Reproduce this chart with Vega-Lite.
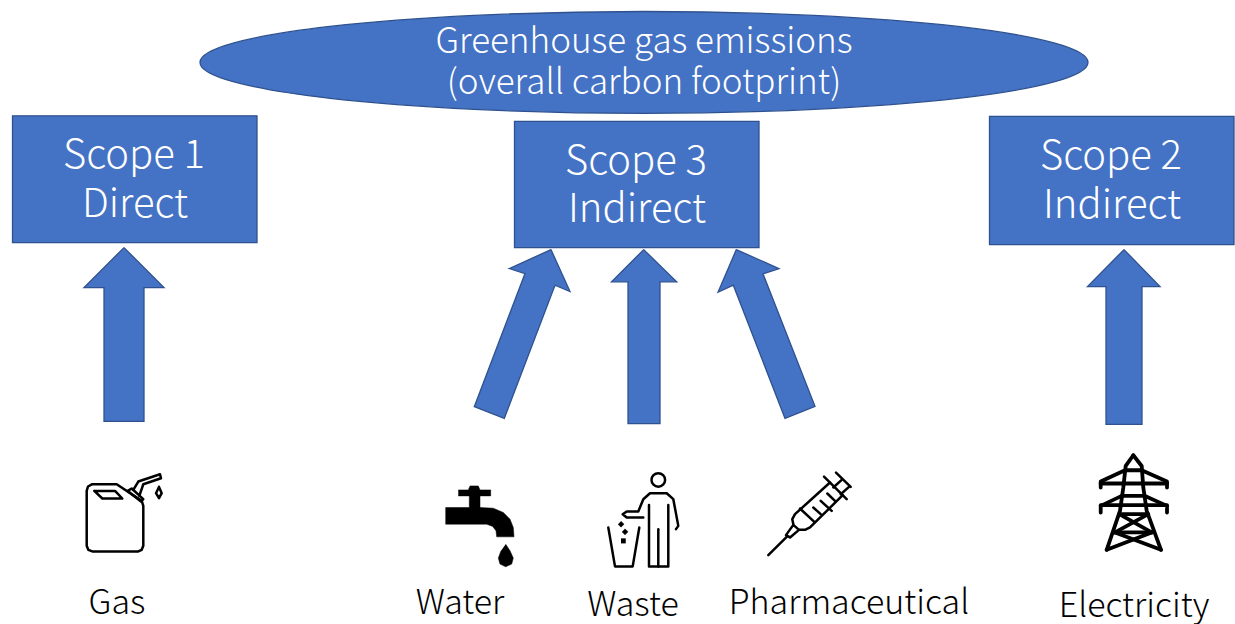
{
"$schema":"https://vega.github.io/schema/vega-lite/v6.json",
"width":1235,"height":624,
"autosize":{"type":"fit","contains":"padding"},
"padding":0,
"background":"white",
"view":{"stroke":null},
"config":{"axis":{"domain":false,"grid":false,"ticks":false,"labels":false,"title":null}},
"datasets":{
"ellipse":[
{"g":"e","i":1,"x":1088,"y":62.5},{"g":"e","i":2,"x":1054,"y":82},{"g":"e","i":3,"x":958,"y":98.5},{"g":"e","i":4,"x":814,"y":109.5},{"g":"e","i":5,"x":644,"y":113.5},{"g":"e","i":6,"x":474,"y":109.5},{"g":"e","i":7,"x":330,"y":98.5},{"g":"e","i":8,"x":234,"y":82},{"g":"e","i":9,"x":200,"y":62.5},{"g":"e","i":10,"x":234,"y":43},{"g":"e","i":11,"x":330,"y":26.5},{"g":"e","i":12,"x":474,"y":15.5},{"g":"e","i":13,"x":644,"y":11.5},{"g":"e","i":14,"x":814,"y":15.5},{"g":"e","i":15,"x":958,"y":26.5},{"g":"e","i":16,"x":1054,"y":43}],
"boxes":[
{"name":"Scope 1","x":12.5,"x2":257,"y":116,"y2":243},
{"name":"Scope 3","x":514.5,"x2":759,"y":121.5,"y2":248},
{"name":"Scope 2","x":989.5,"x2":1234,"y":116.5,"y2":245}],
"arrows":[
{"g":"gas","i":1,"x":124,"y":248},{"g":"gas","i":2,"x":164,"y":288},{"g":"gas","i":3,"x":144,"y":288},{"g":"gas","i":4,"x":144,"y":422},{"g":"gas","i":5,"x":104,"y":422},{"g":"gas","i":6,"x":104,"y":288},{"g":"gas","i":7,"x":84,"y":288},{"g":"gas","i":8,"x":124,"y":248},
{"g":"water","i":1,"x":551,"y":250},{"g":"water","i":2,"x":570,"y":292},{"g":"water","i":3,"x":555,"y":285.7},{"g":"water","i":4,"x":504.3,"y":419},{"g":"water","i":5,"x":474.3,"y":407.3},{"g":"water","i":6,"x":525,"y":274},{"g":"water","i":7,"x":509.3,"y":269},{"g":"water","i":8,"x":551,"y":250},
{"g":"waste","i":1,"x":643.7,"y":250},{"g":"waste","i":2,"x":676.7,"y":282.3},{"g":"waste","i":3,"x":660,"y":282.3},{"g":"waste","i":4,"x":660,"y":424.3},{"g":"waste","i":5,"x":628,"y":424.3},{"g":"waste","i":6,"x":628,"y":282.3},{"g":"waste","i":7,"x":611.5,"y":282.3},{"g":"waste","i":8,"x":643.7,"y":250},
{"g":"pharma","i":1,"x":736.3,"y":250},{"g":"pharma","i":2,"x":779,"y":269},{"g":"pharma","i":3,"x":763,"y":274.3},{"g":"pharma","i":4,"x":815,"y":407},{"g":"pharma","i":5,"x":785,"y":419},{"g":"pharma","i":6,"x":733.3,"y":285.7},{"g":"pharma","i":7,"x":718,"y":292.7},{"g":"pharma","i":8,"x":736.3,"y":250},
{"g":"elec","i":1,"x":1124,"y":250},{"g":"elec","i":2,"x":1160,"y":287},{"g":"elec","i":3,"x":1142,"y":287},{"g":"elec","i":4,"x":1142,"y":425},{"g":"elec","i":5,"x":1106,"y":425},{"g":"elec","i":6,"x":1106,"y":287},{"g":"elec","i":7,"x":1087.5,"y":287},{"g":"elec","i":8,"x":1124,"y":250}],
"solid":[
{"g":"tap","i":1,"x":458.3,"y":490.7},{"g":"tap","i":2,"x":468.3,"y":490.7},{"g":"tap","i":3,"x":470,"y":486.7},{"g":"tap","i":4,"x":478.3,"y":486.7},{"g":"tap","i":5,"x":480,"y":490.7},{"g":"tap","i":6,"x":490.7,"y":490.7},{"g":"tap","i":7,"x":490.7,"y":496.7},{"g":"tap","i":8,"x":480,"y":496.7},{"g":"tap","i":9,"x":480,"y":508.3},{"g":"tap","i":10,"x":493.3,"y":509},{"g":"tap","i":11,"x":503.3,"y":513.3},{"g":"tap","i":12,"x":510,"y":520},{"g":"tap","i":13,"x":513.3,"y":528.3},{"g":"tap","i":14,"x":514,"y":537.7},{"g":"tap","i":15,"x":496.7,"y":537.7},{"g":"tap","i":16,"x":496,"y":531.7},{"g":"tap","i":17,"x":492.7,"y":527.3},{"g":"tap","i":18,"x":486.7,"y":525},{"g":"tap","i":19,"x":445.7,"y":525},{"g":"tap","i":20,"x":445.7,"y":508.3},{"g":"tap","i":21,"x":469.3,"y":508.3},{"g":"tap","i":22,"x":469.3,"y":496.7},{"g":"tap","i":23,"x":458.3,"y":496.7},
{"g":"tapdrop","i":1,"x":505.7,"y":545},{"g":"tapdrop","i":2,"x":510,"y":551.7},{"g":"tapdrop","i":3,"x":513.3,"y":559},{"g":"tapdrop","i":4,"x":511.7,"y":565},{"g":"tapdrop","i":5,"x":505.7,"y":567.7},{"g":"tapdrop","i":6,"x":500,"y":565},{"g":"tapdrop","i":7,"x":498.3,"y":559},{"g":"tapdrop","i":8,"x":501,"y":551.7},
{"g":"t1","i":1,"x":621,"y":522},{"g":"t1","i":2,"x":624,"y":525},{"g":"t1","i":3,"x":621,"y":528},{"g":"t1","i":4,"x":618,"y":525},
{"g":"t2","i":1,"x":625,"y":529.7},{"g":"t2","i":2,"x":628,"y":532.7},{"g":"t2","i":3,"x":625,"y":535.7},{"g":"t2","i":4,"x":622,"y":532.7},
{"g":"t3","i":1,"x":621,"y":539.5},{"g":"t3","i":2,"x":625.5,"y":539.5},{"g":"t3","i":3,"x":625.5,"y":544},{"g":"t3","i":4,"x":621,"y":544}],
"thin":[
{"g":"can","i":1,"x":86.7,"y":491.7},{"g":"can","i":2,"x":88,"y":487.3},{"g":"can","i":3,"x":92.3,"y":485},{"g":"can","i":4,"x":116.7,"y":485},{"g":"can","i":5,"x":141.7,"y":501.7},{"g":"can","i":6,"x":143.3,"y":506.7},{"g":"can","i":7,"x":143.3,"y":546.7},{"g":"can","i":8,"x":141.7,"y":550.7},{"g":"can","i":9,"x":138.3,"y":552.3},{"g":"can","i":10,"x":92.3,"y":552.3},{"g":"can","i":11,"x":88.3,"y":550.7},{"g":"can","i":12,"x":86.7,"y":546.7},{"g":"can","i":13,"x":86.7,"y":491.7},
{"g":"win","i":1,"x":94.3,"y":491.7},{"g":"win","i":2,"x":115,"y":491.7},{"g":"win","i":3,"x":122.3,"y":499.3},{"g":"win","i":4,"x":102.3,"y":499.3},{"g":"win","i":5,"x":94.3,"y":491.7},
{"g":"base","i":1,"x":127.7,"y":491.7},{"g":"base","i":2,"x":131.7,"y":489.3},{"g":"base","i":3,"x":143.3,"y":500},{"g":"base","i":4,"x":141,"y":502.3},{"g":"base","i":5,"x":127.7,"y":491.7},
{"g":"spout","i":1,"x":133.3,"y":490.7},{"g":"spout","i":2,"x":138.3,"y":482.3},{"g":"spout","i":3,"x":160,"y":475},{"g":"spout","i":4,"x":161,"y":479},{"g":"spout","i":5,"x":143.3,"y":485},{"g":"spout","i":6,"x":139.3,"y":496.7},
{"g":"gdrop","i":1,"x":159,"y":487.7},{"g":"gdrop","i":2,"x":161.7,"y":494},{"g":"gdrop","i":3,"x":159,"y":499},{"g":"gdrop","i":4,"x":156,"y":494},{"g":"gdrop","i":5,"x":159,"y":487.7},
{"g":"body","i":1,"x":643.3,"y":518.3},{"g":"body","i":2,"x":626.7,"y":518.3},{"g":"body","i":3,"x":622.7,"y":515},{"g":"body","i":4,"x":626.7,"y":512.3},{"g":"body","i":5,"x":638.3,"y":512.3},{"g":"body","i":6,"x":643.3,"y":500},{"g":"body","i":7,"x":650,"y":494},{"g":"body","i":8,"x":666.7,"y":494},{"g":"body","i":9,"x":673.3,"y":500},{"g":"body","i":10,"x":678.3,"y":526.7},{"g":"body","i":11,"x":676,"y":530},
{"g":"legs","i":1,"x":649,"y":505.7},{"g":"legs","i":2,"x":649,"y":567.3},{"g":"legs","i":3,"x":668.3,"y":567.3},{"g":"legs","i":4,"x":668.3,"y":505.7},
{"g":"mid","i":1,"x":658.3,"y":530},{"g":"mid","i":2,"x":658.3,"y":567.3},
{"g":"bin","i":1,"x":608.3,"y":528.3},{"g":"bin","i":2,"x":615,"y":567.3},{"g":"bin","i":3,"x":632.7,"y":567.3},{"g":"bin","i":4,"x":639.3,"y":528.3},
{"g":"needle","i":1,"x":768.3,"y":556},{"g":"needle","i":2,"x":786.7,"y":537.7},
{"g":"hub","i":1,"x":786,"y":536},{"g":"hub","i":2,"x":793.3,"y":525.7},{"g":"hub","i":3,"x":799,"y":530.7},{"g":"hub","i":4,"x":790,"y":538.3},{"g":"hub","i":5,"x":786,"y":536},
{"g":"b1","i":1,"x":799,"y":530.7},{"g":"b1","i":2,"x":805,"y":530.7},{"g":"b1","i":3,"x":810,"y":528.3},{"g":"b1","i":4,"x":842.7,"y":496},
{"g":"b2","i":1,"x":830,"y":483.3},{"g":"b2","i":2,"x":795,"y":515},{"g":"b2","i":3,"x":792.3,"y":520},{"g":"b2","i":4,"x":793.3,"y":525},
{"g":"flange","i":1,"x":824,"y":477.3},{"g":"flange","i":2,"x":846.7,"y":500},
{"g":"c1","i":1,"x":800,"y":509.3},{"g":"c1","i":2,"x":814.3,"y":522.7},
{"g":"c2","i":1,"x":813.3,"y":508.3},{"g":"c2","i":2,"x":820.7,"y":515},
{"g":"c3","i":1,"x":820.7,"y":501.7},{"g":"c3","i":2,"x":831.7,"y":511.7},
{"g":"c4","i":1,"x":827.3,"y":494.3},{"g":"c4","i":2,"x":835,"y":501.7},
{"g":"p1","i":1,"x":833.3,"y":488.3},{"g":"p1","i":2,"x":841.7,"y":480.7},
{"g":"p2","i":1,"x":840.7,"y":495},{"g":"p2","i":2,"x":849,"y":487.7},
{"g":"p3","i":1,"x":836,"y":473.3},{"g":"p3","i":2,"x":850.7,"y":487.7}],
"tower":[
{"g":"l","i":1,"x":1133.3,"y":456},{"g":"l","i":2,"x":1125.7,"y":466.7},{"g":"l","i":3,"x":1123.3,"y":488.3},{"g":"l","i":4,"x":1120,"y":511.7},{"g":"l","i":5,"x":1106.7,"y":550.7},
{"g":"r","i":1,"x":1133.3,"y":456},{"g":"r","i":2,"x":1141.7,"y":466.7},{"g":"r","i":3,"x":1143.3,"y":488.3},{"g":"r","i":4,"x":1146.7,"y":511.7},{"g":"r","i":5,"x":1161,"y":550.7},
{"g":"a1","i":1,"x":1100.7,"y":488.3},{"g":"a1","i":2,"x":1100.7,"y":482.3},{"g":"a1","i":3,"x":1125,"y":471},{"g":"a1","i":4,"x":1141.7,"y":471},{"g":"a1","i":5,"x":1167,"y":482.3},{"g":"a1","i":6,"x":1167,"y":488.3},
{"g":"h1","i":1,"x":1100.7,"y":484.3},{"g":"h1","i":2,"x":1167,"y":484.3},
{"g":"a2","i":1,"x":1100.7,"y":513.3},{"g":"a2","i":2,"x":1100.7,"y":506.7},{"g":"a2","i":3,"x":1121.7,"y":496.7},{"g":"a2","i":4,"x":1145,"y":496.7},{"g":"a2","i":5,"x":1167,"y":506.7},{"g":"a2","i":6,"x":1167,"y":513.3},
{"g":"h2","i":1,"x":1100.7,"y":506},{"g":"h2","i":2,"x":1167,"y":506},
{"g":"h3","i":1,"x":1119.3,"y":515},{"g":"h3","i":2,"x":1148,"y":515},
{"g":"x1","i":1,"x":1119.3,"y":515},{"g":"x1","i":2,"x":1151.7,"y":533.3},
{"g":"x2","i":1,"x":1148.3,"y":515},{"g":"x2","i":2,"x":1115,"y":533.3},
{"g":"h4","i":1,"x":1115,"y":533.3},{"g":"h4","i":2,"x":1151.7,"y":533.3},
{"g":"x3","i":1,"x":1115,"y":533.3},{"g":"x3","i":2,"x":1161,"y":550.7},
{"g":"x4","i":1,"x":1151.7,"y":533.3},{"g":"x4","i":2,"x":1106.7,"y":550.7}],
"head":[{"x":658.3,"y":480.7}],
"title":[{"t":"Greenhouse gas emissions","x":644,"y":42},{"t":"(overall carbon footprint)","x":644,"y":83}],
"boxlabels":[
{"t":"Scope 1","x":134,"y":156},{"t":"Direct","x":135,"y":205},
{"t":"Scope 3","x":636,"y":162},{"t":"Indirect","x":637,"y":210},
{"t":"Scope 2","x":1111,"y":157},{"t":"Indirect","x":1112,"y":206}],
"captions":[
{"t":"Gas","x":117,"y":605},{"t":"Water","x":460,"y":605},{"t":"Waste","x":633,"y":607},{"t":"Pharmaceutical","x":849,"y":605},{"t":"Electricity","x":1134,"y":608}]
},
"encoding":{
"x":{"field":"x","type":"quantitative","scale":{"domain":[0,1235],"nice":false,"zero":false},"axis":null},
"y":{"field":"y","type":"quantitative","scale":{"domain":[0,624],"reverse":true,"nice":false,"zero":false},"axis":null}
},
"layer":[
{"data":{"name":"ellipse"},"mark":{"type":"line","interpolate":"cardinal-closed","fill":"#4472c4","stroke":"#2f528f","strokeWidth":1.3},"encoding":{"detail":{"field":"g"},"order":{"field":"i","type":"quantitative"}}},
{"data":{"name":"boxes"},"mark":{"type":"rect","fill":"#4472c4","stroke":"#2f528f","strokeWidth":1.3},"encoding":{"x2":{"field":"x2"},"y2":{"field":"y2"}}},
{"data":{"name":"arrows"},"mark":{"type":"line","fill":"#4472c4","stroke":"#2f528f","strokeWidth":1.3},"encoding":{"detail":{"field":"g"},"order":{"field":"i","type":"quantitative"}}},
{"data":{"name":"solid"},"mark":{"type":"line","fill":"#000000","stroke":"#000000","strokeWidth":0.5},"encoding":{"detail":{"field":"g"},"order":{"field":"i","type":"quantitative"}}},
{"data":{"name":"thin"},"mark":{"type":"line","stroke":"#000000","strokeWidth":2.5,"strokeJoin":"round","strokeCap":"round"},"encoding":{"detail":{"field":"g"},"order":{"field":"i","type":"quantitative"}}},
{"data":{"name":"tower"},"mark":{"type":"line","stroke":"#000000","strokeWidth":3.8,"strokeJoin":"round","strokeCap":"round"},"encoding":{"detail":{"field":"g"},"order":{"field":"i","type":"quantitative"}}},
{"data":{"name":"head"},"mark":{"type":"point","shape":"circle","size":185,"filled":false,"stroke":"#000000","strokeWidth":2.5,"opacity":1}},
{"data":{"name":"title"},"mark":{"type":"text","font":"Noto Sans CJK JP","fontWeight":300,"fontSize":35,"fill":"#ffffff","align":"center","baseline":"middle"},"encoding":{"text":{"field":"t"}}},
{"data":{"name":"boxlabels"},"mark":{"type":"text","font":"Noto Sans CJK JP","fontWeight":300,"fontSize":40,"fill":"#ffffff","align":"center","baseline":"middle"},"encoding":{"text":{"field":"t"}}},
{"data":{"name":"captions"},"mark":{"type":"text","font":"Noto Sans CJK JP","fontWeight":300,"fontSize":34,"fill":"#000000","align":"center","baseline":"middle"},"encoding":{"text":{"field":"t"}}}
]
}
